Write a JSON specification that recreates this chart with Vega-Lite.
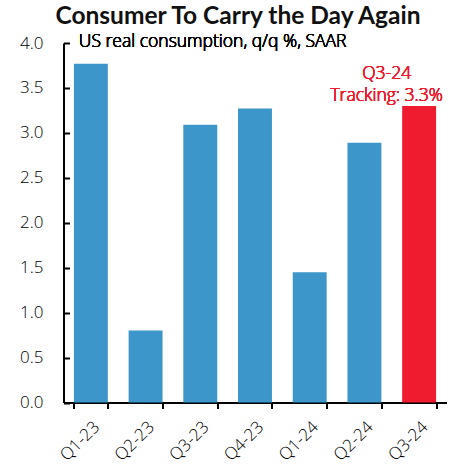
{
  "$schema": "https://vega.github.io/schema/vega-lite/v6.json",
  "width": 383,
  "height": 359.5,
  "autosize": "none",
  "padding": {"left": 63.5, "top": 43, "right": 25.5, "bottom": 63.5},
  "background": "white",
  "title": {
    "text": "Consumer To Carry the Day Again",
    "font": "Lato",
    "fontSize": 24.5,
    "fontWeight": "bold",
    "color": "#111111",
    "anchor": "middle",
    "frame": "group",
    "dx": -17,
    "offset": 3
  },
  "data": {
    "values": [
      {"quarter": "Q1-23", "value": 3.77, "status": "Actual"},
      {"quarter": "Q2-23", "value": 0.80, "status": "Actual"},
      {"quarter": "Q3-23", "value": 3.09, "status": "Actual"},
      {"quarter": "Q4-23", "value": 3.27, "status": "Actual"},
      {"quarter": "Q1-24", "value": 1.45, "status": "Actual"},
      {"quarter": "Q2-24", "value": 2.89, "status": "Actual"},
      {"quarter": "Q3-24", "value": 3.30, "status": "Tracking"}
    ]
  },
  "layer": [
    {
      "mark": {"type": "bar"},
      "encoding": {
        "x": {
          "field": "quarter",
          "type": "nominal",
          "sort": null,
          "scale": {"paddingInner": 0.38, "paddingOuter": 0.19},
          "axis": {
            "title": null,
            "labelAngle": -45,
            "labelFontSize": 17,
            "tickBand": "extent",
            "tickSize": 6,
            "labelPadding": 10
          }
        },
        "y": {
          "field": "value",
          "type": "quantitative",
          "scale": {"domain": [0, 4], "nice": false},
          "axis": {
            "title": null,
            "values": [0, 0.5, 1, 1.5, 2, 2.5, 3, 3.5, 4],
            "format": ".1f",
            "grid": false,
            "tickSize": -6,
            "labelPadding": 26.5
          }
        },
        "color": {
          "field": "status",
          "type": "nominal",
          "scale": {"domain": ["Actual", "Tracking"], "range": ["#3D96CA", "#EE1C2E"]},
          "legend": null
        }
      }
    },
    {
      "mark": {"type": "text", "align": "left", "baseline": "middle", "dx": -12, "dy": -1.5, "font": "Open Sans", "fontSize": 17.5, "fontWeight": 300, "color": "#000000"},
      "encoding": {
        "x": {"datum": "Q1-23", "type": "nominal"},
        "y": {"datum": 4, "type": "quantitative"},
        "text": {"value": "US real consumption, q/q %, SAAR"}
      }
    },
    {
      "mark": {"type": "text", "align": "center", "baseline": "middle", "dx": -32.5, "dy": -31.7, "lineHeight": 22, "font": "Open Sans", "fontSize": 17.5, "fontWeight": 300, "color": "#EE1C2E"},
      "encoding": {
        "x": {"datum": "Q3-24", "type": "nominal"},
        "y": {"datum": 3.3, "type": "quantitative"},
        "text": {"value": ["Q3-24", "Tracking: 3.3%"]}
      }
    }
  ],
  "config": {
    "view": {"stroke": null},
    "axis": {
      "labelFont": "Open Sans",
      "labelFontSize": 17,
      "labelFontWeight": 300,
      "labelColor": "#000000",
      "domainColor": "#000000",
      "domainWidth": 2,
      "tickColor": "#000000",
      "tickWidth": 2
    }
  }
}
